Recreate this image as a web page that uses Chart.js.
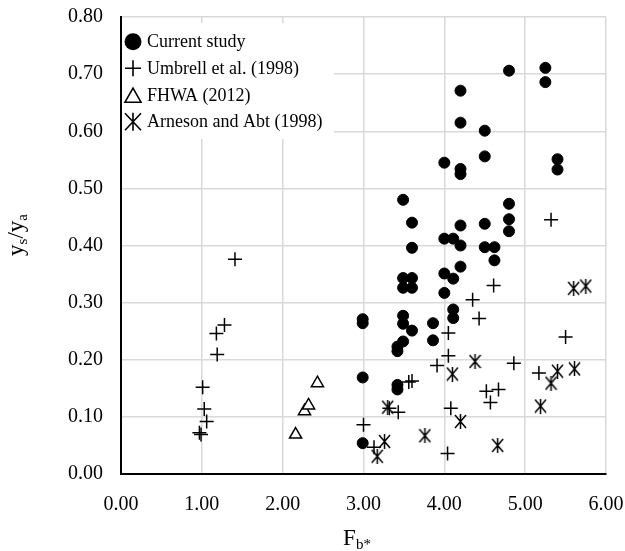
<!DOCTYPE html>
<html>
<head>
<meta charset="utf-8">
<script src="https://cdn.jsdelivr.net/npm/chart.js@4.4.0/dist/chart.umd.min.js"></script>
<style>
  html, body { margin: 0; padding: 0; background: #fff; }
  #wrap { width: 625px; height: 551px; }
</style>
</head>
<body>
<div id="wrap"><canvas id="chart" width="625" height="551"></canvas></div>
<script>
// data: [Fb*, ys/ya]
const currentStudy = [
    [2.99, 0.271], [2.99, 0.264], [2.99, 0.169], [2.99, 0.054],
    [3.42, 0.223], [3.42, 0.215], [3.42, 0.156], [3.42, 0.148],
    [3.49, 0.480], [3.49, 0.343], [3.49, 0.326], [3.49, 0.277], [3.49, 0.263], [3.49, 0.232],
    [3.60, 0.440], [3.60, 0.396], [3.60, 0.343], [3.60, 0.326], [3.60, 0.251],
    [3.86, 0.264], [3.86, 0.234],
    [4.00, 0.545], [4.00, 0.412], [4.00, 0.351], [4.00, 0.317],
    [4.11, 0.412], [4.11, 0.342], [4.11, 0.288], [4.11, 0.273],
    [4.20, 0.671], [4.20, 0.615], [4.20, 0.534], [4.20, 0.525], [4.20, 0.435], [4.20, 0.400], [4.20, 0.363],
    [4.50, 0.601], [4.50, 0.556], [4.50, 0.438], [4.50, 0.397],
    [4.62, 0.397], [4.62, 0.374],
    [4.80, 0.706], [4.80, 0.473], [4.80, 0.446], [4.80, 0.425],
    [5.25, 0.711], [5.25, 0.686],
    [5.40, 0.551], [5.40, 0.533]
];
const umbrell1998 = [
    [0.97, 0.072], [0.99, 0.069], [1.01, 0.152], [1.03, 0.114], [1.06, 0.092],
    [1.18, 0.246], [1.19, 0.209], [1.28, 0.261], [1.41, 0.376],
    [3.00, 0.086], [3.13, 0.047], [3.32, 0.115], [3.43, 0.108], [3.56, 0.161], [3.60, 0.163],
    [3.91, 0.190], [4.04, 0.036], [4.05, 0.207], [4.05, 0.247], [4.08, 0.115],
    [4.35, 0.305], [4.43, 0.272], [4.52, 0.145], [4.57, 0.125], [4.61, 0.330], [4.67, 0.148],
    [4.86, 0.194], [5.17, 0.177], [5.32, 0.445], [5.50, 0.240]
];
const fhwa2012 = [
    [2.16, 0.069], [2.27, 0.110], [2.32, 0.120], [2.43, 0.159]
];
const arnesonAbt1998 = [
    [3.17, 0.031], [3.26, 0.057], [3.30, 0.117], [3.76, 0.067], [4.10, 0.175], [4.20, 0.092],
    [4.38, 0.197], [4.66, 0.050], [5.19, 0.119], [5.32, 0.159], [5.40, 0.180], [5.61, 0.184],
    [5.60, 0.325], [5.75, 0.329]
];
const seriesNames = ['Current study', 'Umbrell et al. (1998)', 'FHWA (2012)', 'Arneson and Abt (1998)'];

const serif = "'Liberation Serif', 'Times New Roman', serif";

function toPoints(arr) {
    return arr.map(p => ({ x: p[0], y: p[1] }));
}

// X with a vertical bar, like the Excel marker
function makeAsterisk(w, h, lw) {
    const c = document.createElement('canvas');
    c.width = w;
    c.height = h;
    const g = c.getContext('2d');
    g.strokeStyle = '#000';
    g.lineWidth = lw;
    g.beginPath();
    g.moveTo(1, 1); g.lineTo(w - 1, h - 1);
    g.moveTo(w - 1, 1); g.lineTo(1, h - 1);
    g.moveTo(w / 2, 0); g.lineTo(w / 2, h);
    g.stroke();
    return c;
}
const asteriskImg = makeAsterisk(13, 15, 1.5);

// legend inside the plot + axis titles with subscripts
const decorPlugin = {
    id: 'decor',
    afterDraw(chart) {
        const ctx = chart.ctx;
        const area = chart.chartArea;
        ctx.save();

        // legend box
        ctx.fillStyle = '#fff';
        ctx.fillRect(area.left + 1, 23, 333 - area.left, 116);
        const mx = 133, tx = 147;
        const rows = [41.7, 68.3, 95.7, 121.7];
        ctx.fillStyle = '#000';
        ctx.strokeStyle = '#000';

        ctx.beginPath();
        ctx.arc(mx, rows[0], 8.5, 0, Math.PI * 2);
        ctx.fill();

        ctx.lineWidth = 1.6;
        ctx.beginPath();
        ctx.moveTo(mx - 8, rows[1]); ctx.lineTo(mx + 8, rows[1]);
        ctx.moveTo(mx, rows[1] - 8); ctx.lineTo(mx, rows[1] + 8);
        ctx.stroke();

        ctx.beginPath();
        ctx.moveTo(mx, rows[2] - 7.5);
        ctx.lineTo(mx + 8, rows[2] + 6.5);
        ctx.lineTo(mx - 8, rows[2] + 6.5);
        ctx.closePath();
        ctx.stroke();

        ctx.beginPath();
        ctx.moveTo(mx - 8, rows[3] - 8.5); ctx.lineTo(mx + 8, rows[3] + 8.5);
        ctx.moveTo(mx + 8, rows[3] - 8.5); ctx.lineTo(mx - 8, rows[3] + 8.5);
        ctx.moveTo(mx, rows[3] - 9); ctx.lineTo(mx, rows[3] + 9);
        ctx.stroke();

        ctx.font = '18px ' + serif;
        ctx.textAlign = 'left';
        ctx.textBaseline = 'middle';
        seriesNames.forEach((name, i) => ctx.fillText(name, tx, rows[i] + 1));

        // axis titles
        const big = '23px ' + serif, small = '15px ' + serif;
        function drawPieces(pieces, cx, baseY) {
            let total = 0;
            pieces.forEach(p => {
                ctx.font = p.sub ? small : big;
                p.w = ctx.measureText(p.t).width;
                total += p.w;
            });
            let x = cx - total / 2;
            ctx.textAlign = 'left';
            ctx.textBaseline = 'alphabetic';
            pieces.forEach(p => {
                ctx.font = p.sub ? small : big;
                ctx.fillText(p.t, x, baseY + (p.sub ? 4 : 0));
                x += p.w;
            });
        }
        drawPieces([{ t: 'F' }, { t: 'b*', sub: true }], 357, 545);

        ctx.translate(23, 235);
        ctx.rotate(-Math.PI / 2);
        drawPieces([{ t: 'y' }, { t: 's', sub: true }, { t: '/' }, { t: 'y' }, { t: 'a', sub: true }], 0, 0);

        ctx.restore();
    }
};

const ctx = document.getElementById('chart').getContext('2d');
new Chart(ctx, {
    type: 'scatter',
    data: {
        datasets: [
            {
                label: seriesNames[1],
                data: toPoints(umbrell1998),
                pointStyle: 'cross',
                radius: 7,
                borderColor: '#000',
                borderWidth: 1.5
            },
            {
                label: seriesNames[2],
                data: toPoints(fhwa2012),
                pointStyle: 'triangle',
                radius: 7,
                backgroundColor: '#fff',
                borderColor: '#000',
                borderWidth: 1.5
            },
            {
                label: seriesNames[3],
                data: toPoints(arnesonAbt1998),
                pointStyle: asteriskImg,
                radius: 7
            },
            {
                label: seriesNames[0],
                data: toPoints(currentStudy),
                pointStyle: 'circle',
                radius: 5.5,
                backgroundColor: '#000',
                borderColor: '#000',
                borderWidth: 1
            }
        ]
    },
    options: {
        responsive: false,
        devicePixelRatio: 1,
        animation: false,
        events: [],
        layout: { padding: { top: 17, right: 19, bottom: 0, left: 0 } },
        plugins: {
            legend: { display: false },
            tooltip: { enabled: false }
        },
        scales: {
            x: {
                type: 'linear',
                min: 0,
                max: 6,
                afterFit: scale => {
                    scale.height = 77;
                    scale.paddingLeft = 0;
                    scale.paddingRight = 0;
                },
                ticks: {
                    stepSize: 1,
                    padding: 19,
                    color: '#000',
                    font: { family: serif, size: 20 },
                    callback: v => v.toFixed(2)
                },
                grid: { color: '#d9d9d9', lineWidth: 1.5, drawTicks: false },
                border: { color: '#000', width: 2 }
            },
            y: {
                type: 'linear',
                min: 0,
                max: 0.8,
                afterFit: scale => {
                    scale.width = 121;
                    scale.paddingTop = 0;
                    scale.paddingBottom = 0;
                },
                ticks: {
                    stepSize: 0.1,
                    padding: 18,
                    color: '#000',
                    font: { family: serif, size: 20 },
                    callback: v => v.toFixed(2)
                },
                grid: { color: '#d9d9d9', lineWidth: 1.5, drawTicks: false },
                border: { color: '#000', width: 2 }
            }
        }
    },
    plugins: [decorPlugin]
});
</script>
</body>
</html>
